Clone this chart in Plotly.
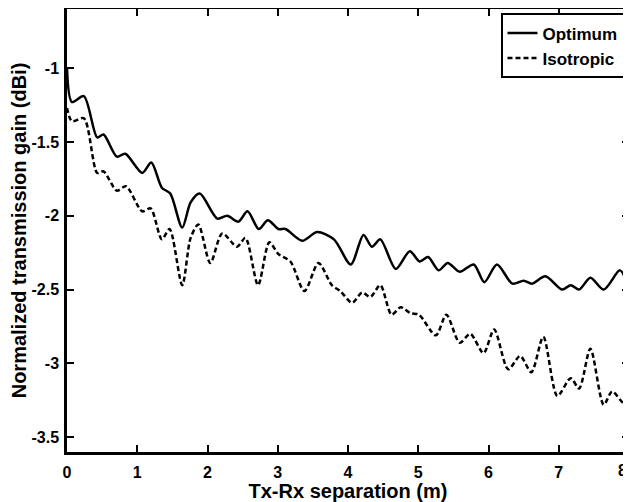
import plotly.graph_objects as go

# Optimum (solid)
opt_x = [0.0, 0.07, 0.24, 0.43, 0.52, 0.71, 0.83, 1.07, 1.20, 1.35, 1.47, 1.64, 1.76, 1.89,
         2.14, 2.28, 2.44, 2.57, 2.73, 2.86, 3.01, 3.11, 3.35, 3.56, 3.80, 4.04, 4.22, 4.34,
         4.46, 4.68, 4.88, 5.02, 5.14, 5.29, 5.42, 5.59, 5.79, 5.94, 6.12, 6.34, 6.50, 6.62,
         6.81, 7.05, 7.17, 7.29, 7.45, 7.64, 7.87, 7.96, 8.0]
opt_y = [-1.0, -1.23, -1.19, -1.47, -1.45, -1.60, -1.58, -1.71, -1.64, -1.81, -1.85, -2.08, -1.91, -1.85,
         -2.02, -2.00, -2.04, -1.97, -2.09, -2.03, -2.09, -2.09, -2.17, -2.11, -2.16, -2.33, -2.13, -2.21,
         -2.16, -2.36, -2.24, -2.31, -2.28, -2.37, -2.32, -2.38, -2.33, -2.45, -2.33, -2.46, -2.44, -2.46,
         -2.41, -2.50, -2.47, -2.50, -2.42, -2.50, -2.37, -2.45, -2.68]

# Isotropic (dashed)
iso_x = [0.0, 0.07, 0.24, 0.43, 0.52, 0.71, 0.84, 1.07, 1.19, 1.35, 1.46, 1.64, 1.76, 1.87,
         2.04, 2.21, 2.42, 2.54, 2.72, 2.88, 3.01, 3.18, 3.38, 3.58, 3.77, 3.89, 4.06, 4.20,
         4.32, 4.46, 4.62, 4.75, 4.89, 5.01, 5.25, 5.40, 5.59, 5.74, 5.93, 6.08, 6.28, 6.45,
         6.61, 6.78, 6.98, 7.17, 7.29, 7.45, 7.64, 7.76, 7.93, 8.0]
iso_y = [-1.27, -1.36, -1.34, -1.71, -1.70, -1.83, -1.80, -1.97, -1.95, -2.16, -2.09, -2.47, -2.15, -2.06,
         -2.32, -2.12, -2.21, -2.15, -2.47, -2.18, -2.26, -2.31, -2.51, -2.32, -2.47, -2.51, -2.59, -2.52,
         -2.55, -2.47, -2.67, -2.62, -2.66, -2.67, -2.81, -2.67, -2.86, -2.80, -2.93, -2.77, -3.04, -2.95,
         -3.06, -2.82, -3.22, -3.10, -3.17, -2.90, -3.28, -3.19, -3.27, -3.20]

x_ticks = [0, 1, 2, 3, 4, 5, 6, 7, 8]
x_tick_labels = ["0", "1", "2", "3", "4", "5", "6", "7", "8"]
y_ticks = [-1, -1.5, -2, -2.5, -3, -3.5]
y_tick_labels = ["-1", "-1.5", "-2", "-2.5", "-3", "-3.5"]

FONT = "Liberation Sans, Arial, sans-serif"

fig = go.Figure()
fig.add_trace(go.Scatter(x=opt_x, y=opt_y, mode="lines", name="<b>Optimum</b>",
                         line=dict(color="black", width=2.5, shape="spline", smoothing=0.8)))
fig.add_trace(go.Scatter(x=iso_x, y=iso_y, mode="lines", name="<b>Isotropic</b>",
                         line=dict(color="black", width=2.5, dash="5px,3px", shape="spline", smoothing=0.8)))

axis_common = dict(showline=True, linecolor="black", linewidth=2.5, mirror="allticks",
                   ticks="inside", ticklen=7, tickwidth=2, tickcolor="black",
                   showgrid=False, zeroline=False, automargin=False,
                   tickfont=dict(family=FONT, size=16, color="black"))

# last x tick label sits at the window edge: draw it right-aligned so it stays whole
x_text = ["<b>%s</b>" % t for t in x_tick_labels[:-1]] + [""]

fig.update_xaxes(range=[0, 8], tickvals=x_ticks, ticktext=x_text,
                 ticklabelstandoff=4,
                 title=dict(text="<b>Tx-Rx separation (m)</b>", font=dict(family=FONT, size=20, color="black"),
                            standoff=2),
                 **axis_common)
fig.update_yaxes(range=[-3.6, -0.6], tickvals=y_ticks, ticktext=["<b>%s</b>" % t for t in y_tick_labels],
                 ticklabelstandoff=2,
                 title=dict(text="<b>Normalized transmission gain (dBi)</b>", font=dict(family=FONT, size=20, color="black"),
                            standoff=4),
                 **axis_common)

fig.add_annotation(x=x_ticks[-1], y=0, xref="x", yref="paper", yanchor="top", xanchor="right",
                   text="<b>%s</b>" % x_tick_labels[-1], showarrow=False, yshift=-8, xshift=0,
                   font=dict(family=FONT, size=16, color="black"))

# page body has an 8px margin, so the figure is sized to fit the remaining window
fig.update_layout(
    width=623, height=494,
    margin=dict(l=59, r=2, t=1, b=50),
    paper_bgcolor="white", plot_bgcolor="white",
    showlegend=True,
    legend=dict(x=0.992, y=0.99, xanchor="right", yanchor="top",
                bgcolor="white", bordercolor="black", borderwidth=2,
                font=dict(family=FONT, size=17, color="black"),
                tracegroupgap=0, itemwidth=30),
)

fig.write_html("out.html")
